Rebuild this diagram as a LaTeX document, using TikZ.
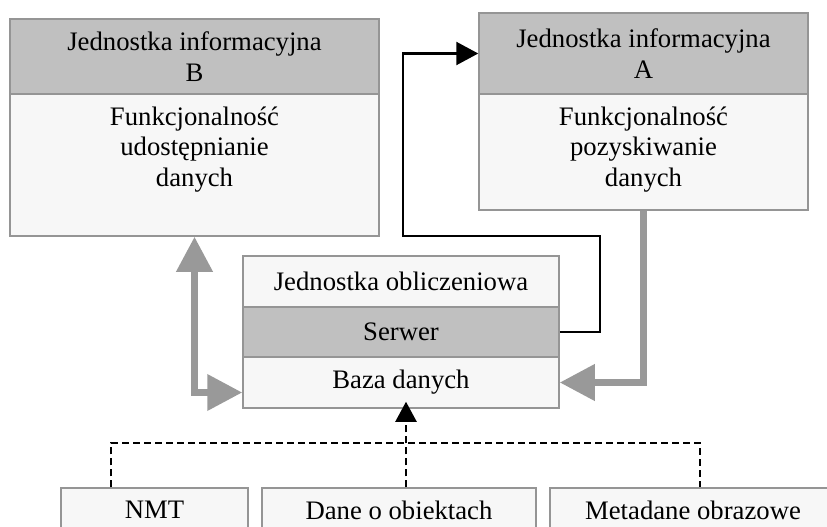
\documentclass[tikz,border=0pt]{standalone}
\usepackage{fontspec}
\setmainfont{Liberation Serif}
\usepackage{tikz}
\usetikzlibrary{arrows.meta,positioning}
\definecolor{schHead}{HTML}{C0C0C0}
\definecolor{schBody}{HTML}{F7F7F7}
\definecolor{schLine}{HTML}{959595}
\definecolor{schArrow}{HTML}{999999}

\begin{document}
\begin{tikzpicture}[x=1pt, y=-1pt,
  every node/.style={font=\fontsize{26.7}{30.5}\selectfont},
  headbox/.style={draw=schLine, line width=1.5pt, fill=schHead, align=center, inner sep=0pt},
  bodybox/.style={draw=schLine, line width=1.5pt, fill=schBody, align=center, inner sep=0pt},
  bodytext/.style={align=center, inner sep=0pt},
  grayarrow/.style={schArrow, line width=7pt, >={Triangle[length=35pt,width=35pt]}},
  linkarrow/.style={black, line width=2.4pt, -{Triangle[length=22pt,width=23pt]}},
  feedline/.style={black, line width=2.2pt, dash pattern=on 7pt off 4pt},
  feedtip/.style={-{Triangle[length=20pt,width=21pt]}}]
  \useasboundingbox (0,0) rectangle (827,527);
  \clip (0,0) rectangle (827,527);

  % Jednostka informacyjna B
  \node[headbox, minimum width=369pt, minimum height=75pt] (Bhead) at (194.5,56.5) {Jednostka informacyjna\\B};
  \node[bodybox, minimum width=369pt, minimum height=142pt] (Bbody) at (194.5,165) {};
  \node[bodytext, below=13pt of Bbody.north] (Btext) {Funkcjonalność\\udostępnianie\\danych};

  % Jednostka informacyjna A
  \node[headbox, minimum width=329pt, minimum height=81pt] (Ahead) at (643.5,53.5) {Jednostka informacyjna\\A};
  \node[bodybox, minimum width=329pt, minimum height=116pt] (Abody) at (643.5,152) {};
  \node[bodytext, below=13pt of Abody.north] (Atext) {Funkcjonalność\\pozyskiwanie\\danych};

  % Jednostka obliczeniowa
  \node[bodybox, minimum width=316pt, minimum height=51pt] (obl) at (401,281.5) {Jednostka obliczeniowa};
  \node[headbox, minimum width=316pt, minimum height=50pt] (serwer) at (401,332) {Serwer};
  \node[bodybox, minimum width=316pt, minimum height=51pt] (baza) at (401,382.5) {Baza danych};

  % Dane zrodlowe
  \node[bodybox, minimum width=187pt, minimum height=44pt] (nmt) at (154.5,510) {NMT};
  \node[bodybox, minimum width=274pt, minimum height=44pt] (dane) at (399,510) {Dane o obiektach};
  \node[bodybox, minimum width=286pt, minimum height=44pt] (meta) at (693,510) {Metadane obrazowe};

  % Polaczenia
  \draw[grayarrow, <->] (Bbody.south) |- ([yshift=-10pt]baza.west);
  \draw[grayarrow, ->] (Abody.south) |- (baza.east);
  \draw[linkarrow] (serwer.east) -- ++(40,0) |- (403,236) |- (Ahead.west);
  \draw[feedline] ([xshift=-43.5pt]nmt.north) -- ++(0,-44) -| ([xshift=7pt]meta.north);
  \draw[feedline, feedtip, shorten >=-7pt] ([xshift=7pt]dane.north) -- ([xshift=5pt]baza.south);
\end{tikzpicture}
\end{document}
